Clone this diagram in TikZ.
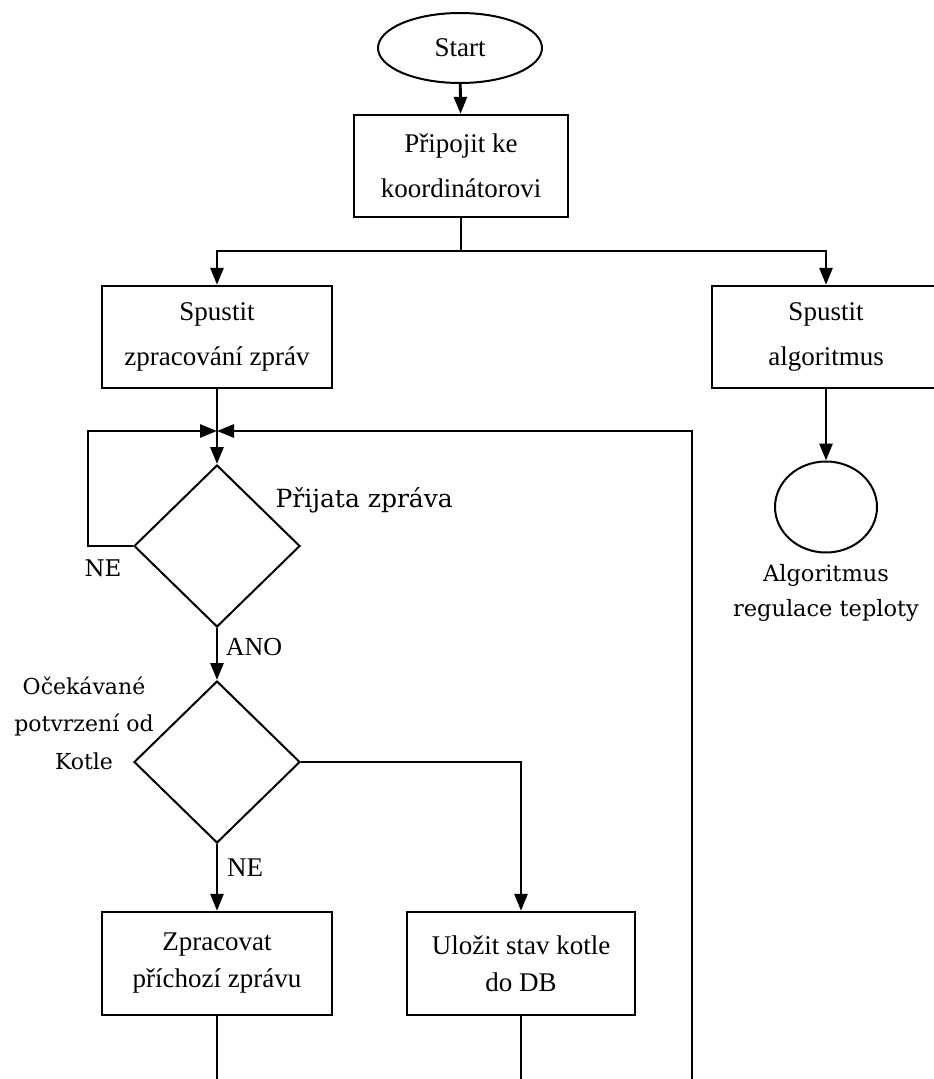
\documentclass[tikz,border=0pt]{standalone}
\usepackage{fontspec}
\setmainfont{Liberation Serif}
\newfontfamily\cambf{DejaVu Serif}
\usetikzlibrary{shapes.geometric,arrows.meta}
\begin{document}
\begin{tikzpicture}[x=1pt,y=-1pt,
  boxn/.style={draw,line width=2.4pt,minimum width=230pt,minimum height=102pt,inner sep=0pt,align=center,font=\fontsize{27}{45}\selectfont},
  boxlow/.style={boxn,minimum height=103pt,font=\fontsize{27}{37}\selectfont},
  decis/.style={draw,diamond,line width=2pt,minimum width=166pt,minimum height=162pt,inner sep=0pt},
  oval/.style={draw,ellipse,line width=2pt,inner sep=0pt},
  conn/.style={line width=2.8pt},
  arr/.style={conn,-{Triangle[length=17pt,width=13pt]}},
  lblc/.style={font=\cambf\fontsize{22}{37.5}\selectfont,align=center},
  lblt/.style={font=\fontsize{26}{30}\selectfont}
]
\useasboundingbox (0,0) rectangle (934,1079);
\clip (0,0) rectangle (934,1079);

\node[oval,minimum width=164pt,minimum height=70pt,font=\fontsize{27}{32}\selectfont] (start) at (460,48) {Start};
\node[boxn,minimum width=214pt] (b1) at (461,166) {Připojit ke\\koordinátorovi};
\node[boxn] (b2) at (217,337) {Spustit\\zpracování zpráv};
\node[boxn,minimum width=228pt] (b3) at (826,337) {Spustit\\algoritmus};
\node[oval,minimum width=102pt,minimum height=91pt] (circ) at (826,507) {};
\node[lblc,font=\cambf\fontsize{22.5}{35}\selectfont] (lalg) at (826,592.5) {Algoritmus\\regulace teploty};

\node[decis] (d1) at (217,546) {};
\node[anchor=base west,font=\cambf\fontsize{25}{30}\selectfont] (lprij) at (272,507) {Přijata zpráva};
\node[font=\cambf\fontsize{23}{28}\selectfont] (lne1) at (103,568) {NE};
\node[lblt] (lano) at (254,647) {ANO};

\node[decis] (d2) at (217,762) {};
\node[lblc] (locek) at (84,723) {Očekávané\\potvrzení od\\Kotle};
\node[lblt,font=\fontsize{27}{30}\selectfont] (lne2) at (245,868) {NE};

\node[boxlow] (b4) at (217,963.5) {Zpracovat\\příchozí zprávu};
\node[boxlow,minimum width=228pt] (b5) at (521,963.5) {Uložit stav kotle\\do DB};

\coordinate (hM) at (461,251);
\coordinate (hL) at (217,251);
\coordinate (hR) at (826,251);
\coordinate (J) at (217,431);
\coordinate (lp1) at (88,546);
\coordinate (lp2) at (88,431);
\coordinate (rt1) at (692,1090);
\coordinate (rt2) at (692,431);
\coordinate (c5) at (521,762);
\coordinate (e4) at (217,1090);
\coordinate (e5) at (521,1090);

\draw[arr] (start) -- (b1);
\draw[conn] (b1.south) -- (hM);
\draw[arr] (hM) -- (hL) -- (b2.north);
\draw[arr] (hM) -- (hR) -- (b3.north);
\draw[arr] (b3) -- (circ);
\draw[conn] (b2.south) -- (J);
\draw[arr] (J) -- (d1.north);
\draw[arr] (d1.west) -- (lp1) -- (lp2) -- (J);
\draw[arr] (rt1) -- (rt2) -- (J);
\draw[arr] (d1.south) -- (d2.north);
\draw[arr] (d2.east) -- (c5) -- (b5.north);
\draw[arr] (d2.south) -- (b4.north);
\draw[conn] (b4.south) -- (e4);
\draw[conn] (b5.south) -- (e5);
\end{tikzpicture}
\end{document}
